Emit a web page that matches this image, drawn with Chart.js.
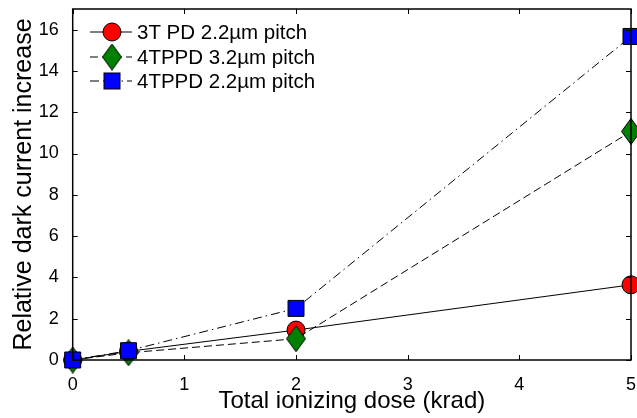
<!DOCTYPE html>
<html>
<head>
<meta charset="utf-8">
<script src="https://cdn.jsdelivr.net/npm/chart.js@4"></script>
<style>
  html, body { margin: 0; padding: 0; background: #fff; }
  #wrap { width: 637px; height: 418px; }
</style>
</head>
<body>
<div id="wrap"><canvas id="doseChart" width="637" height="418"></canvas></div>
<script>
// dados
const doses = [0, 0.5, 2, 5];
const pd3t22 = [0, 0.42, 1.45, 3.64];
const ppd4t32 = [0, 0.35, 1.03, 11.07];
const ppd4t22 = [0, 0.45, 2.5, 15.67];
const seriesLabels = ['3T PD 2.2\u00b5m pitch', '4TPPD 3.2\u00b5m pitch', '4TPPD 2.2\u00b5m pitch'];
const xTicks = [0, 1, 2, 3, 4, 5];

const FONT = '"Liberation Sans", Arial, sans-serif';

// losango mais alto que largo
function makeDiamond() {
    const c = document.createElement('canvas');
    c.width = 20; c.height = 27;
    const g = c.getContext('2d');
    g.beginPath();
    g.moveTo(10, 0.5); g.lineTo(19.5, 13.5); g.lineTo(10, 26.5); g.lineTo(0.5, 13.5);
    g.closePath();
    g.fillStyle = '#008000'; g.fill();
    g.strokeStyle = '#000'; g.lineWidth = 1; g.stroke();
    return c;
}
const diamond = makeDiamond();

const toPts = vals => vals.map((v, i) => ({ x: doses[i], y: v }));

const styles = [
    { color: '#ff0000', point: 'circle', radius: 9, dash: [] },
    { color: '#008000', point: diamond, radius: 10, dash: [8, 4] },
    { color: '#0000ff', point: 'rect', radius: 11.3, dash: [9, 4, 1.5, 4] }
];

// caixa e marcas de escala para dentro (estilo MATLAB)
const boxPlugin = {
    id: 'box',
    afterDatasetsDraw(chart) {
        const { ctx, chartArea: a, scales } = chart;
        ctx.save();
        ctx.strokeStyle = '#000';
        ctx.lineWidth = 1;
        ctx.beginPath();
        scales.x.ticks.forEach(t => {
            const px = Math.round(scales.x.getPixelForValue(t.value)) + 0.5;
            ctx.moveTo(px, a.bottom); ctx.lineTo(px, a.bottom - 5);
            ctx.moveTo(px, a.top); ctx.lineTo(px, a.top + 5);
        });
        scales.y.ticks.forEach(t => {
            const py = Math.round(scales.y.getPixelForValue(t.value)) + 0.5;
            ctx.moveTo(a.left, py); ctx.lineTo(a.left + 5, py);
            ctx.moveTo(a.right, py); ctx.lineTo(a.right - 5, py);
        });
        ctx.stroke();
        ctx.lineWidth = 1.5;
        ctx.strokeRect(a.left, a.top, a.right - a.left, a.bottom - a.top);
        ctx.restore();
    }
};

// legenda desenhada à mão
const legendPlugin = {
    id: 'matLegend',
    afterDraw(chart) {
        const ctx = chart.ctx;
        const rows = [32, 57, 81];
        ctx.save();
        seriesLabels.forEach((lbl, i) => {
            const s = styles[i];
            const y = rows[i];
            ctx.strokeStyle = '#000';
            ctx.lineWidth = 1;
            ctx.setLineDash(s.dash);
            ctx.beginPath();
            ctx.moveTo(90, y); ctx.lineTo(132, y);
            ctx.stroke();
            ctx.setLineDash([]);
            if (s.point === 'circle') {
                ctx.beginPath();
                ctx.arc(112, y, 9, 0, Math.PI * 2);
                ctx.fillStyle = s.color; ctx.fill(); ctx.stroke();
            } else if (s.point === 'rect') {
                ctx.fillStyle = s.color;
                ctx.fillRect(104, y - 8, 16, 16);
                ctx.strokeRect(104, y - 8, 16, 16);
            } else {
                ctx.drawImage(diamond, 102, y - 13.5);
            }
            ctx.fillStyle = '#000';
            ctx.font = '20.5px ' + FONT;
            ctx.textBaseline = 'middle';
            ctx.textAlign = 'left';
            ctx.fillText(lbl, 137, y + 1);
        });
        ctx.restore();
    }
};

const series = [pd3t22, ppd4t32, ppd4t22];

const ctx = document.getElementById('doseChart').getContext('2d');
const chart = new Chart(ctx, {
    type: 'line',
    data: {
        datasets: series.map((vals, i) => ({
            label: seriesLabels[i],
            data: toPts(vals),
            borderColor: '#000',
            borderWidth: 1,
            borderDash: styles[i].dash,
            backgroundColor: styles[i].color,
            pointStyle: styles[i].point,
            pointRadius: styles[i].radius,
            pointBackgroundColor: styles[i].color,
            pointBorderColor: '#000',
            pointBorderWidth: 1,
            fill: false,
            tension: 0,
            clip: false,
            order: 3 - i
        }))
    },
    options: {
        responsive: false,
        animation: false,
        layout: { autoPadding: false, padding: { left: 0, top: 9, right: 6, bottom: 0 } },
        plugins: { legend: { display: false }, tooltip: { enabled: false } },
        scales: {
            x: {
                type: 'linear',
                min: 0, max: 5,
                afterFit: s => { s.height = 58; s.paddingLeft = 0; s.paddingRight = 0; },
                afterBuildTicks: s => { s.ticks = xTicks.map(v => ({ value: v })); },
                grid: { display: false },
                border: { display: false },
                ticks: { color: '#000', padding: 6, font: { family: FONT, size: 18 } },
                title: {
                    display: true, text: 'Total ionizing dose (krad)', color: '#000',
                    font: { family: FONT, size: 24 }, padding: { top: 0, bottom: 2 }
                }
            },
            y: {
                min: 0, max: 17,
                afterFit: s => { s.width = 72.7; s.paddingTop = 0; s.paddingBottom = 0; },
                grid: { display: false },
                border: { display: false },
                ticks: { stepSize: 2, includeBounds: false, color: '#000', padding: 6, font: { family: FONT, size: 18 } },
                title: {
                    display: true, text: 'Relative dark current increase', color: '#000',
                    font: { family: FONT, size: 25 }, padding: { top: 9, bottom: 0 }
                }
            }
        }
    },
    plugins: [boxPlugin, legendPlugin]
});
</script>
</body>
</html>
